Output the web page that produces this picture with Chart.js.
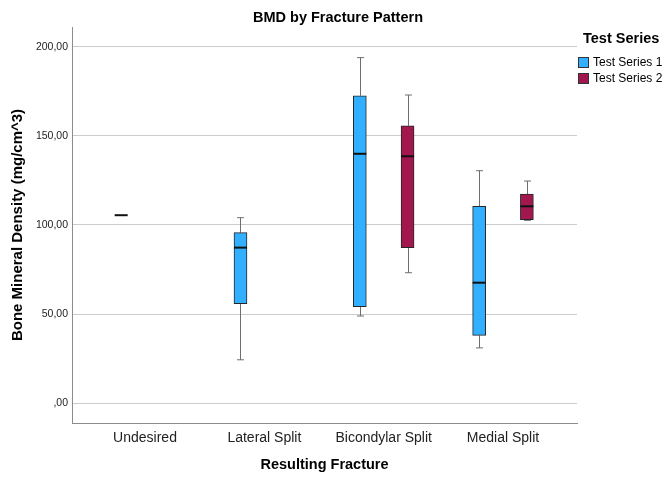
<!DOCTYPE html>
<html>
<head>
<meta charset="utf-8">
<script src="https://cdn.jsdelivr.net/npm/chart.js@4/dist/chart.umd.min.js"></script>
<style>
  html, body { margin: 0; padding: 0; background: #ffffff; }
  #wrap { width: 662px; height: 478px; }
</style>
</head>
<body>
<div id="wrap"><canvas id="chart" width="662" height="478"></canvas></div>
<script>
// Fracture categories along the x axis
const categories = ['Undesired', 'Lateral Split', 'Bicondylar Split', 'Medial Split'];
const seriesNames = ['Test Series 1', 'Test Series 2'];

// Five-number summaries of BMD (mg/cm^3), Test Series 1
const s1Min    = [105.5, 24.3, 48.9, 31.0];
const s1Q1     = [105.5, 55.8, 54.1, 38.0];
const s1Median = [105.5, 87.3, 140.0, 67.6];
const s1Q3     = [105.5, 95.7, 172.6, 110.5];
const s1Max    = [105.5, 104.1, 194.0, 130.5];

// Test Series 2 (no specimens in the first two categories)
const s2Min    = [null, null, 73.2, 102.6];
const s2Q1     = [null, null, 87.3, 103.0];
const s2Median = [null, null, 138.6, 110.5];
const s2Q3     = [null, null, 155.7, 117.4];
const s2Max    = [null, null, 173.0, 124.7];

// Value-axis ticks
const yTicks = [0, 50, 100, 150, 200];

const seriesColors = ['#33afff', '#a3174f'];
const GROUP_SHIFT = 0.2;   // each series sits this far either side of its category
const BOX_WIDTH = 13;
const FONT = "'Liberation Sans', Arial, sans-serif";

function buildBoxes(mins, q1s, meds, q3s, maxs, shift) {
  const out = [];
  categories.forEach((c, i) => {
    if (meds[i] === null) return;
    out.push({ x: i + shift, y: [q1s[i], q3s[i]], min: mins[i], med: meds[i], max: maxs[i] });
  });
  return out;
}

const boxes1 = buildBoxes(s1Min, s1Q1, s1Median, s1Q3, s1Max, -GROUP_SHIFT);
const boxes2 = buildBoxes(s2Min, s2Q1, s2Median, s2Q3, s2Max, GROUP_SHIFT);

// Whiskers under the boxes, medians on top of them
const boxPlotParts = {
  id: 'boxPlotParts',
  beforeDatasetsDraw(chart) {
    const { ctx, scales: { x, y } } = chart;
    ctx.save();
    ctx.strokeStyle = '#6e6e6e';
    ctx.lineWidth = 1;
    chart.data.datasets.forEach(ds => {
      ds.data.forEach(b => {
        if (b.min === b.max) return;
        const px = Math.round(x.getPixelForValue(b.x)) + 0.5;
        const yMax = y.getPixelForValue(b.max), yQ3 = y.getPixelForValue(b.y[1]);
        const yMin = y.getPixelForValue(b.min), yQ1 = y.getPixelForValue(b.y[0]);
        ctx.beginPath();
        ctx.moveTo(px, yMax); ctx.lineTo(px, yQ3);
        ctx.moveTo(px, yQ1); ctx.lineTo(px, yMin);
        ctx.moveTo(px - 3.5, yMax); ctx.lineTo(px + 3.5, yMax);
        ctx.moveTo(px - 3.5, yMin); ctx.lineTo(px + 3.5, yMin);
        ctx.stroke();
      });
    });
    ctx.restore();
  },
  afterDatasetsDraw(chart) {
    const { ctx, scales: { x, y } } = chart;
    ctx.save();
    ctx.strokeStyle = '#111111';
    ctx.lineWidth = 2;
    chart.data.datasets.forEach(ds => {
      ds.data.forEach(b => {
        const px = x.getPixelForValue(b.x);
        const py = y.getPixelForValue(b.med);
        ctx.beginPath();
        ctx.moveTo(px - BOX_WIDTH / 2, py);
        ctx.lineTo(px + BOX_WIDTH / 2, py);
        ctx.stroke();
      });
    });
    ctx.restore();
  }
};

// Chart heading and the series key at the upper right
const heading = {
  id: 'heading',
  afterDraw(chart) {
    const { ctx } = chart;
    ctx.save();
    ctx.fillStyle = '#000000';
    ctx.textBaseline = 'middle';
    ctx.textAlign = 'center';
    ctx.font = 'bold 14.5px ' + FONT;
    ctx.fillText('BMD by Fracture Pattern', 338, 18);

    ctx.textAlign = 'left';
    ctx.fillText('Test Series', 583, 39);
    ctx.font = '12px ' + FONT;
    seriesNames.forEach((name, i) => {
      const top = 57 + i * 16;
      ctx.fillStyle = seriesColors[i];
      ctx.fillRect(578.5, top + 0.5, 10, 10);
      ctx.strokeStyle = '#333333';
      ctx.lineWidth = 1;
      ctx.strokeRect(578.5, top + 0.5, 10, 10);
      ctx.fillStyle = '#000000';
      ctx.fillText(name, 593, top + 6);
    });
    ctx.restore();
  }
};

const datasetStyle = (color) => ({
  backgroundColor: color,
  borderColor: '#262626',
  borderWidth: 1,
  borderSkipped: false,
  barThickness: BOX_WIDTH,
  grouped: false
});

new Chart(document.getElementById('chart'), {
  type: 'bar',
  data: {
    datasets: [
      Object.assign({ label: seriesNames[0], data: boxes1 }, datasetStyle(seriesColors[0])),
      Object.assign({ label: seriesNames[1], data: boxes2 }, datasetStyle(seriesColors[1]))
    ]
  },
  options: {
    responsive: false,
    animation: false,
    devicePixelRatio: 1,
    layout: { padding: { top: 27, right: 85, bottom: 0, left: 0 } },
    plugins: {
      legend: { display: false },
      title: { display: false },
      tooltip: { enabled: false }
    },
    scales: {
      x: {
        type: 'linear',
        offset: false,
        min: -0.612,
        max: 3.62,
        afterFit(scale) { scale.height = 55; },
        afterBuildTicks(scale) { scale.ticks = categories.map((c, i) => ({ value: i })); },
        grid: { display: false, drawTicks: false },
        border: { display: true, color: '#8c8c8c', width: 1 },
        ticks: {
          padding: 7,
          color: '#222222',
          font: { family: FONT, size: 14 },
          maxRotation: 0,
          autoSkip: false,
          callback: (v) => categories[v]
        },
        title: {
          display: true,
          text: 'Resulting Fracture',
          color: '#000000',
          font: { family: FONT, size: 14.5, weight: 'bold' },
          padding: { top: 0, bottom: 4 }
        }
      },
      y: {
        type: 'linear',
        min: -11.2,
        max: 211.2,
        afterFit(scale) { scale.width = 72; },
        afterBuildTicks(scale) { scale.ticks = yTicks.map(v => ({ value: v })); },
        grid: { color: '#cccccc', lineWidth: 1, drawTicks: false },
        border: { display: true, color: '#8c8c8c', width: 1 },
        ticks: {
          padding: 4,
          color: '#222222',
          font: { family: FONT, size: 10.5 },
          callback: (v) => v === 0 ? ',00' : v.toFixed(2).replace('.', ',')
        },
        title: {
          display: true,
          text: 'Bone Mineral Density (mg/cm^3)',
          color: '#000000',
          font: { family: FONT, size: 15, weight: 'bold' },
          padding: { top: 8.5, bottom: 0 }
        }
      }
    }
  },
  plugins: [boxPlotParts, heading]
});
</script>
</body>
</html>
